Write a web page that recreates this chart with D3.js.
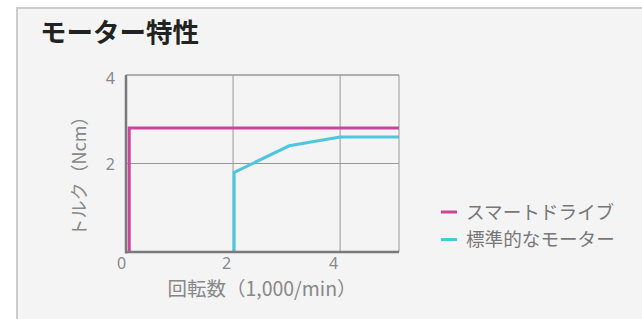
<!DOCTYPE html>
<html><head><meta charset="utf-8">
<script src="https://cdn.jsdelivr.net/npm/d3@7"></script>
<style>
html,body{margin:0;padding:0;background:#fff;}
svg{display:block;font-family:"Noto Sans CJK JP","Noto Sans",sans-serif;}
</style></head>
<body>
<script>
const title = "モーター特性";
const xTicks = [0, 2, 4];
const yTicks = [0, 2, 4];
const seriesNames = ["スマートドライブ", "標準的なモーター"];
const seriesColors = ["#c9479b", "#4ec6e0"];
const smartX = [0.06, 0.06, 5.1];
const smartY = [0, 2.8, 2.8];
const stdX = [2.02, 2.02, 3.05, 4.0, 5.1];
const stdY = [0, 1.8, 2.4, 2.6, 2.6];
const xLabel = "回転数（1,000/min）";
const yLabel = "トルク（Ncm）";

const W = 642, H = 319;
const svg = d3.select("body").append("svg").attr("width", W).attr("height", H);
svg.append("rect").attr("x", 17).attr("y", 8).attr("width", W).attr("height", H)
  .attr("fill", "#f4f4f4").attr("stroke", "#cccccc").attr("stroke-width", 2);
svg.append("text").attr("x", 40).attr("y", 42).text(title)
  .attr("font-size", 26.5).attr("font-weight", 700).attr("fill", "#222");

const x = d3.scaleLinear().domain([0, 5.1]).range([126, 399]);
const y = d3.scaleLinear().domain([0, 4]).range([252, 75]);

const g = svg.append("g");
g.append("g").selectAll("line").data(xTicks.filter(d => d > 0)).join("line")
  .attr("x1", d => x(d)).attr("x2", d => x(d)).attr("y1", y(4)).attr("y2", y(0))
  .attr("stroke", "#999").attr("stroke-width", 1);
g.append("g").selectAll("line").data(yTicks.filter(d => d > 0)).join("line")
  .attr("x1", x(0)).attr("x2", x(5.1)).attr("y1", d => y(d)).attr("y2", d => y(d))
  .attr("stroke", "#999").attr("stroke-width", 1);
g.append("line").attr("x1", x(5.1)).attr("x2", x(5.1)).attr("y1", y(4)).attr("y2", y(0))
  .attr("stroke", "#999").attr("stroke-width", 1);

const fmt = d3.format("d");
const xAxis = d3.axisBottom(x).tickValues(xTicks).tickFormat(fmt).tickSize(0).tickPadding(6);
const yAxis = d3.axisLeft(y).tickValues(yTicks.filter(d => d > 0)).tickFormat(fmt).tickSize(0).tickPadding(11);
const ax = g.append("g").attr("transform", `translate(0,${y(0)})`).call(xAxis);
const ay = g.append("g").attr("transform", `translate(${x(0)},0)`).call(yAxis);
[ax, ay].forEach(a => {
  a.select(".domain").remove();
  a.selectAll("text").attr("font-size", 16).attr("fill", "#888")
    .attr("font-family", "'Noto Sans','Noto Sans CJK JP',sans-serif");
});
ax.selectAll(".tick text").attr("dx", d => d === 0 ? -5 : -7);
ay.selectAll(".tick text").attr("dy", d => d === 4 ? "0.55em" : "0.4em");

const line = d3.line().x(d => x(d[0])).y(d => y(d[1]));
const sm = smartX.map((v, i) => [v, smartY[i]]);
const st = stdX.map((v, i) => [v, stdY[i]]);
g.append("path").attr("d", line(st)).attr("fill", "none")
  .attr("stroke", seriesColors[1]).attr("stroke-width", 3);
g.append("path").attr("d", line(sm)).attr("fill", "none")
  .attr("stroke", seriesColors[0]).attr("stroke-width", 3);

g.append("line").attr("x1", x(0)).attr("x2", x(0)).attr("y1", y(4)).attr("y2", y(0) + 1.5)
  .attr("stroke", "#7a7a7a").attr("stroke-width", 2.5);
g.append("line").attr("x1", x(0)).attr("x2", x(5.1)).attr("y1", y(0)).attr("y2", y(0))
  .attr("stroke", "#7a7a7a").attr("stroke-width", 2.5);
g.append("line").attr("x1", x(0)).attr("x2", x(5.1)).attr("y1", y(4)).attr("y2", y(4))
  .attr("stroke", "#999").attr("stroke-width", 1);

svg.append("text").attr("x", 262).attr("y", 296).attr("text-anchor", "middle")
  .text(xLabel).attr("font-size", 19.5).attr("fill", "#888");
svg.append("text").attr("transform", "translate(86,172) rotate(-90)")
  .attr("text-anchor", "middle").text(yLabel).attr("font-size", 18).attr("fill", "#888");

const leg = svg.append("g");
seriesNames.forEach((n, i) => {
  const yy = 212 + i * 27.5;
  leg.append("line").attr("x1", 441).attr("x2", 457).attr("y1", yy).attr("y2", yy)
    .attr("stroke", seriesColors[i]).attr("stroke-width", 3);
  leg.append("text").attr("x", 466).attr("y", yy + 6.5).text(n)
    .attr("font-size", 18.6).attr("fill", "#777");
});
</script>
</body></html>
